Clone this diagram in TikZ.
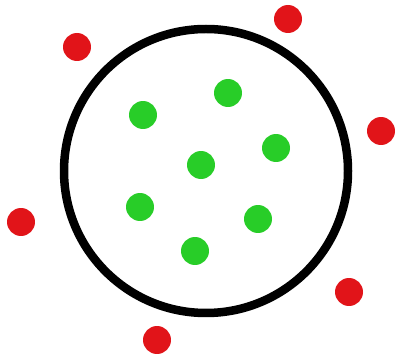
\documentclass[tikz,border=0pt]{standalone}
\definecolor{dotgreen}{RGB}{40,205,40}
\definecolor{dotred}{RGB}{225,20,25}
\tikzset{
  inner/.style={circle, fill=dotgreen, inner sep=0pt, minimum size=0.56cm},
  outer/.style={circle, fill=dotred, inner sep=0pt, minimum size=0.56cm},
  ring/.style={draw=black, line width=0.17cm}
}
\begin{document}
\begin{tikzpicture}[x=0.02cm, y=-0.02cm]
	\useasboundingbox (0, 0) rectangle (399, 361);
	% boundary:
	\draw[ring] (206, 171) circle[radius=142];
	% points inside:
	\node[inner] (g1) at (143, 115) {};
	\node[inner] (g2) at (228, 93) {};
	\node[inner] (g3) at (276, 148) {};
	\node[inner] (g4) at (201, 165) {};
	\node[inner] (g5) at (140, 207) {};
	\node[inner] (g6) at (258, 219) {};
	\node[inner] (g7) at (195, 251) {};
	% points outside:
	\node[outer] (r1) at (77, 47) {};
	\node[outer] (r2) at (288, 19) {};
	\node[outer] (r3) at (381, 131) {};
	\node[outer] (r4) at (21, 222) {};
	\node[outer] (r5) at (349, 292) {};
	\node[outer] (r6) at (157, 340) {};
\end{tikzpicture}
\end{document}
